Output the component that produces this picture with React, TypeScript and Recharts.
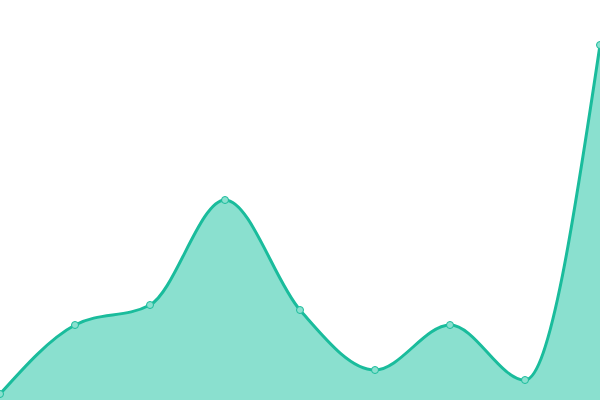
import { Area, AreaChart, XAxis, YAxis } from "recharts";

const labels = ["1", "2", "3", "4", "5", "6", "7", "8", "9"];
const values = [1.2, 15, 19, 40, 18, 6, 15, 4, 71];

const chartData = labels.map((label, i) => ({ label, value: values[i] }));

export default function App() {
  return (
    <div style={{ position: "absolute", top: 0, left: 0, width: 600, height: 400, background: "#fff" }}>
      <AreaChart width={600} height={400} data={chartData} margin={{ top: 0, right: 0, bottom: 0, left: 0 }}>
        <XAxis dataKey="label" hide />
        <YAxis hide domain={[0, 80]} />
        <Area
          type="monotone"
          dataKey="value"
          stroke="#1abc9c"
          strokeWidth={3}
          fill="#8ae0cf"
          fillOpacity={1}
          dot={{ r: 3.5, fill: "#8ae0cf", stroke: "#1abc9c", strokeWidth: 1 }}
          activeDot={false}
          isAnimationActive={false}
        />
      </AreaChart>
    </div>
  );
}
